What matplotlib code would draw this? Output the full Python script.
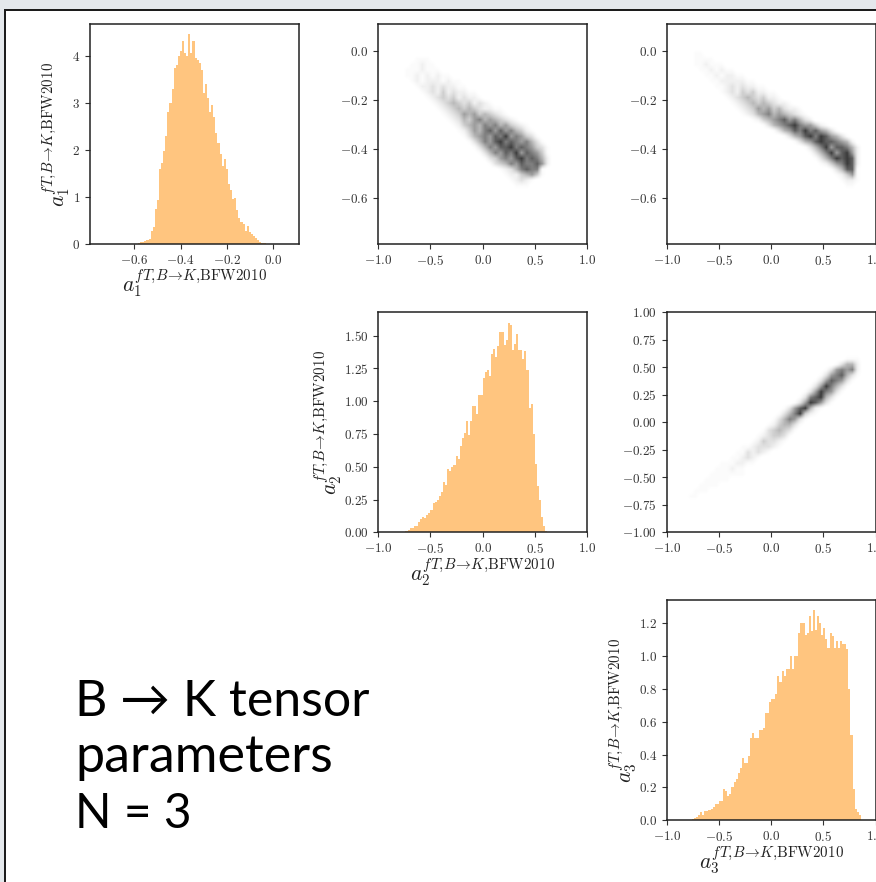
import numpy as np
import matplotlib
matplotlib.use('Agg')
import matplotlib.pyplot as plt
from matplotlib.colors import PowerNorm
from matplotlib.patches import Rectangle

plt.rcParams['mathtext.fontset'] = 'cm'
plt.rcParams['axes.unicode_minus'] = True

W, H = 876, 882

# histogram heights, first_bin = index of first nonzero bin of 100
hist1_first_bin = 22
hist1 = [.01, .02, .04, .05, .07, .09, .1, .27, .36, .75, .93, 1.6, 1.72, 1.97, 2.3, 2.8, 3.0, 3.3,
         3.73, 3.8, 4.0, 4.1, 4.3, 4.05, 4.0, 4.45, 4.05, 4.3, 3.95, 3.9, 3.85, 3.7, 3.2, 3.4, 3.1,
         2.8, 2.95, 2.7, 2.35, 2.15, 1.9, 1.65, 1.8, 1.6, 1.28, 1.15, .95, .97, .72, .55, .47, .42,
         .28, .38, .25, .22, .17, .12, .09, .05, .03, .02, .01]

hist2_first_bin = 12
hist2 = [.005, .01, .02, .03, .035, .05, .05, .075, .1, .115, .11, .13, .15, .17, .22, .23, .25, .28,
         .31, .38, .36, .48, .47, .5, .51, .58, .56, .66, .72, .76, .85, .74, .85, .96, .96, .9, 1.05,
         1.05, 1.18, 1.22, 1.24, 1.19, 1.36, 1.4, 1.34, 1.42, 1.53, 1.53, 1.43, 1.47, 1.6, 1.58, 1.39,
         1.44, 1.51, 1.39, 1.39, 1.32, 1.38, 1.24, .95, .98, .75, .52, .35, .25, .12, .05, .01, .005]

hist3_first_bin = 11
hist3 = [.004, .007, .015, .02, .03, .05, .035, .055, .055, .06, .07, .08, .1, .1, .12, .12, .19, .18,
         .15, .16, .2, .23, .25, .29, .32, .38, .35, .35, .39, .5, .53, .5, .5, .55, .55, .56, .65, .65,
         .72, .735, .735, .77, .88, .84, .91, .88, .92, .92, 1.0, .92, 1.0, 1.0, 1.14, 1.2, 1.2, 1.13,
         1.14, 1.24, 1.15, 1.28, 1.16, 1.24, 1.2, 1.13, 1.17, 1.1, 1.05, 1.14, 1.12, 1.05, 1.09, 1.05,
         1.09, 1.07, 1.07, 1.04, .8, .52, .19, .07, .05, .03]

# density cells on a 40x40 grid, each row is (first column, darkness digits)
heat12_first_row = 6
heat12 = [(7, "111"), (6, "11211"), (5, "1112111"), (5, "112121211"), (6, "1212221211"),
          (7, "1223232211"), (8, "12324232211"), (9, "12343423221"), (10, "123454342321"),
          (11, "1234545432211"), (12, "1234656454321"), (13, "123546756543210"),
          (14, "124565767564321"), (15, "124657868675421"), (16, "135676879676431"),
          (17, "135768978767531"), (18, "135768897876431"), (19, "13576879687641"),
          (20, "1346768978752"), (21, "134576877862"), (23, "123578771"), (24, "12245641"),
          (25, "12321"), (26, "111")]

heat13_first_row = 5
heat13 = [(5, "11"), (5, "1111"), (5, "112111"), (6, "1121211"), (7, "11212211"), (8, "112222211"),
          (9, "1123232211"), (10, "12324342211"), (11, "12345434221"), (12, "123454543221"),
          (13, "1234656453221"), (14, "1235675654321"), (16, "124567867532"), (18, "1356789766421"),
          (20, "1356879786531"), (22, "1356897986531"), (24, "135689887652"), (26, "13579688752"),
          (27, "1357968962"), (28, "135798982"), (29, "12467982"), (31, "135881"), (32, "12461"),
          (33, "1221"), (34, "11")]

heat23_first_row = 8
heat23 = [(34, "111"), (32, "13552"), (30, "1367672"), (29, "13678531"), (28, "13687631"),
          (27, "13697531"), (26, "13697631"), (25, "13789531"), (24, "13698631"), (22, "13689521"),
          (21, "13579421"), (20, "1357631"), (19, "1245531"), (18, "1345431"), (17, "1234431"),
          (16, "1243321"), (14, "11233321"), (13, "1132321"), (12, "112321"), (10, "1112211"),
          (9, "111211"), (8, "1111111"), (7, "11111"), (6, "1111"), (5, "111"), (4, "11")]

lim1 = (-0.79, 0.11)
lim2 = (-1.0, 1.0)
lim3 = (-1.0, 1.0)
ticks_big = [-1.0, -0.5, 0.0, 0.5, 1.0]
ticks1x = [-0.6, -0.4, -0.2, 0.0]
ticks1y = [0, 1, 2, 3, 4]
ticks12y = [0.0, -0.2, -0.4, -0.6]
ticks2y = [0.0, 0.25, 0.5, 0.75, 1.0, 1.25, 1.5]
ticks23y = [-1.0, -0.75, -0.5, -0.25, 0.0, 0.25, 0.5, 0.75, 1.0]
ticks3y = [0.0, 0.2, 0.4, 0.6, 0.8, 1.0, 1.2]
title_lines = ["B \u2192 K tensor", "parameters", "N = 3"]
title_sizes = [36, 37.5, 34.5]


def add_ax(left, top, right, bottom):
    return fig.add_axes([left / W, 1 - bottom / H, (right - left) / W, (bottom - top) / H])


def style(ax, xt, yt, xfmt, yfmt):
    ax.set_xticks(xt)
    ax.set_yticks(yt)
    ax.set_xticklabels(['$' + xfmt % v + '$' for v in xt])
    ax.set_yticklabels(['$' + yfmt % v + '$' for v in yt])
    ax.tick_params(labelsize=9.4, colors='#333333', pad=3.5)
    for s in ax.spines.values():
        s.set_linewidth(1.1)
        s.set_color('#222222')


def draw_hist(ax, vals, first, lim, ymax, idx):
    edges = np.linspace(lim[0], lim[1], 101)
    ax.stairs(vals, edges[first:first + len(vals) + 1], fill=True, color='darkorange', alpha=0.5, linewidth=0)
    ax.set_xlim(lim)
    ax.set_ylim(0, ymax)
    lab = r'$a_{%d}^{fT{,}B\!\to\!K{,}\mathrm{BFW2010}}$' % idx
    ax.set_xlabel(lab, fontsize=15.5, labelpad=0, color='#222222')
    ax.set_ylabel(lab, fontsize=15.5, labelpad=0, color='#222222')


def draw_heat(ax, rows, first_row, ylim):
    cells = np.zeros((40, 40))
    for k, (col, digits) in enumerate(rows):
        for j, c in enumerate(digits):
            cells[first_row + k, col + j] = int(c)
    ax.imshow(cells, extent=[-1, 1, ylim[0], ylim[1]], aspect='auto', cmap='gray_r',
              norm=PowerNorm(1.7, vmin=0, vmax=10.5), interpolation='bilinear')


fig = plt.figure(figsize=(W / 100, H / 100), dpi=100, facecolor='white')

# page frame behind the plots
bg = fig.add_axes([0, 0, 1, 1])
bg.set_xlim(0, W)
bg.set_ylim(H, 0)
bg.axis('off')
bg.add_patch(Rectangle((0, 0), W, 8.5, color='#e4e8ec', lw=0))
bg.add_patch(Rectangle((0, 0), 3.5, H, color='#e4e8ec', lw=0))
bg.add_patch(Rectangle((3.5, 8.5), W, 2, color='#1c1c1c', lw=0))
bg.add_patch(Rectangle((3.5, 8.5), 2.5, H, color='#1c1c1c', lw=0))
for line, base, size in zip(title_lines, [716.5, 772, 828], title_sizes):
    bg.text(75, base, line, fontsize=size, family=['Lato', 'DejaVu Sans'], color='black', va='baseline', ha='left')

ax = add_ax(90, 24, 299, 244)
draw_hist(ax, hist1, hist1_first_bin, lim1, 4.67, 1)
style(ax, ticks1x, ticks1y, '%.1f', '%d')

ax = add_ax(378.3, 24, 587, 244)
draw_heat(ax, heat12, heat12_first_row, lim1)
ax.set_xlim(lim2)
ax.set_ylim(lim1)
style(ax, ticks_big, ticks12y, '%.1f', '%.1f')

ax = add_ax(666.7, 24, 875.5, 244)
draw_heat(ax, heat13, heat13_first_row, lim1)
ax.set_xlim(lim3)
ax.set_ylim(lim1)
style(ax, ticks_big, ticks12y, '%.1f', '%.1f')

ax = add_ax(378.3, 312.3, 587, 532.3)
draw_hist(ax, hist2, hist2_first_bin, lim2, 1.678, 2)
style(ax, ticks_big, ticks2y, '%.1f', '%.2f')

ax = add_ax(666.7, 312.3, 875.5, 532.3)
draw_heat(ax, heat23, heat23_first_row, lim2)
ax.set_xlim(lim3)
ax.set_ylim(lim2)
style(ax, ticks_big, ticks23y, '%.1f', '%.2f')

ax = add_ax(666.7, 600, 875.5, 820.3)
draw_hist(ax, hist3, hist3_first_bin, lim3, 1.34, 3)
style(ax, ticks_big, ticks3y, '%.1f', '%.1f')

fig.savefig('out.png', dpi=100)
